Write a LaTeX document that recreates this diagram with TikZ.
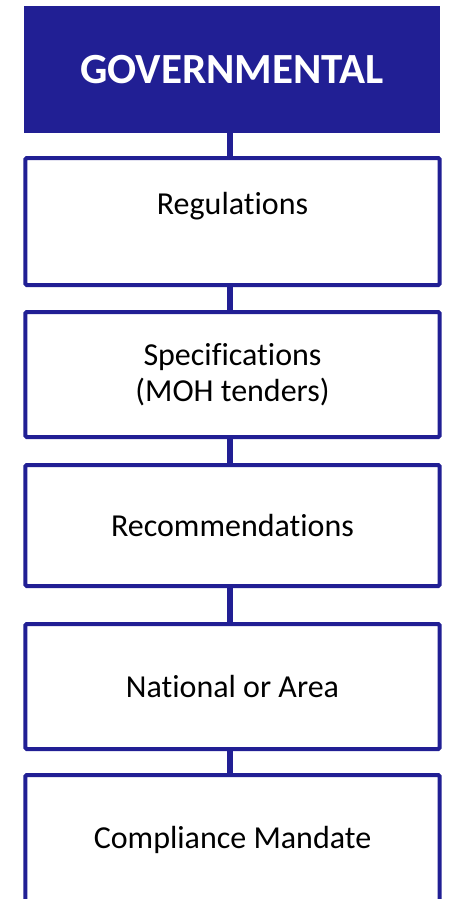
\documentclass[tikz,border=0pt]{standalone}
\usepackage{fontspec}
\setmainfont[RawFeature={-liga;-clig;-calt;-dlig;-rlig}]{Carlito}
\definecolor{navy}{RGB}{33,31,148}
\tikzset{
  stepbox/.style={draw=navy, line width=4pt, fill=white, rounded corners=1.5pt,
    minimum width=414.4pt, inner sep=0pt, align=center,
    font=\fontsize{32}{36}\selectfont, text=black},
  conn/.style={draw=navy, line width=6pt}
}
\begin{document}
\begin{tikzpicture}[x=1pt,y=-1pt]
\useasboundingbox (0,0) rectangle (448,899);
\clip (0,0) rectangle (448,899);
\node[fill=navy, minimum width=416pt, minimum height=127pt, inner sep=0pt,
  text=white, font=\fontsize{43}{48}\selectfont\bfseries] (hdr) at (232,69.5) {GOVERNMENTAL};
\node[stepbox, minimum height=127pt] (reg) at (232.5,221.5) {Regulations\\\mbox{}};
\node[stepbox, minimum height=125pt] (spec) at (232.5,374.5) {Specifications\\(MOH tenders)};
\node[stepbox, minimum height=121pt] (rec) at (232.5,525.5) {Recommendations};
\node[stepbox, minimum height=125pt] (nat) at (232.5,686.5) {National or Area};
\node[stepbox, minimum height=130pt] (comp) at (232.5,840) {Compliance Mandate};
\draw[conn] ([xshift=-2pt]hdr.south) -- ([xshift=-2.5pt]reg.north);
\draw[conn] ([xshift=-2.5pt]reg.south) -- ([xshift=-2.5pt]spec.north);
\draw[conn] ([xshift=-2.5pt]spec.south) -- ([xshift=-2.5pt]rec.north);
\draw[conn] ([xshift=-2.5pt]rec.south) -- ([xshift=-2.5pt]nat.north);
\draw[conn] ([xshift=-2.5pt]nat.south) -- ([xshift=-2.5pt]comp.north);
\end{tikzpicture}
\end{document}
